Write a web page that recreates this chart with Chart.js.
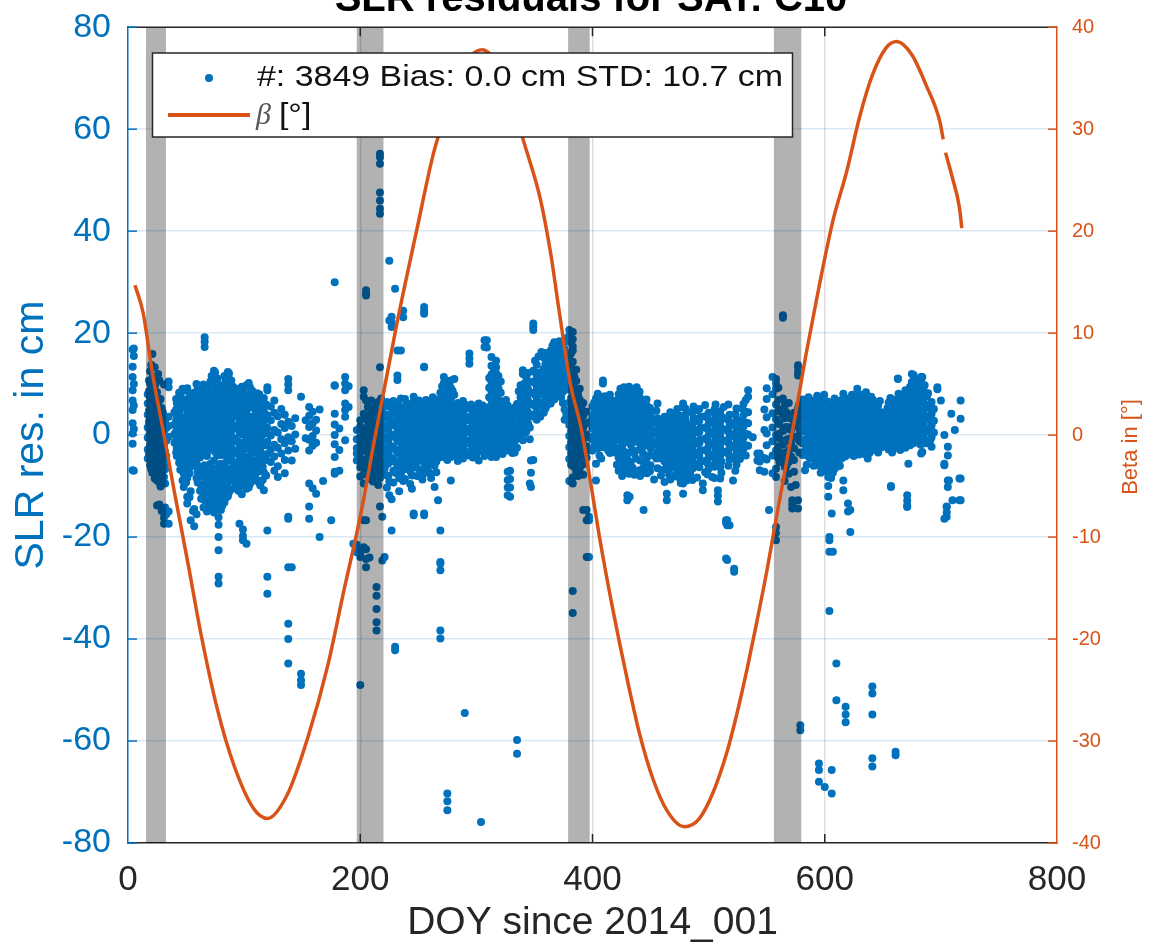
<!DOCTYPE html>
<html>
<head>
<meta charset="utf-8">
<script src="https://cdn.jsdelivr.net/npm/chart.js@4.4.0/dist/chart.umd.min.js"></script>
<style>
  html, body { margin: 0; padding: 0; background: #fff; }
  #wrap { width: 1149px; height: 943px; }
</style>
</head>
<body>
<div id="wrap"><canvas id="myChart"></canvas></div>
<script>
// SLR residuals per pass: one day, several normal points
var slrDays = [4, 5, 17, 19, 21, 23, 25, 27, 29, 31, 33, 35,
  40, 42, 45, 48, 51, 54, 57, 60, 63, 66, 69, 72, 75, 78, 81, 84, 87, 90, 93, 96, 99, 102, 105, 108, 111, 114, 117,
  120, 123, 126, 129, 132, 135, 138, 141, 144, 149, 153, 156, 159, 162, 165, 168, 175, 178, 182,
  187, 190, 194, 197, 200, 203, 205, 208, 211, 214, 217, 219, 221,
  223, 225, 227, 230, 232, 235, 237, 240, 243, 246, 249, 252, 255, 258, 261, 264, 267, 269, 272, 275, 278, 281, 284, 287, 290,
  294, 297, 300, 304, 307, 309, 313, 317, 321, 324, 327, 329, 331, 335, 338, 340, 343, 346, 347, 349, 352, 355, 356, 358, 361, 364, 367, 370, 373, 376,
  380, 383, 386, 389, 392, 395, 397,
  400, 403, 406, 409, 412, 415, 418, 421, 424, 427, 430, 432, 433, 436, 438, 441, 444, 447, 450, 453, 456, 459, 462, 464, 467, 470, 473, 476, 478,
  481, 484, 487, 490, 493, 495, 497, 500, 503, 506, 508, 510, 513, 515, 516, 518, 521, 522, 524, 527, 530, 534, 538, 542, 544, 548, 550, 552, 555, 558,
  561, 564, 567, 571, 572, 575, 577, 579, 583,
  586, 589, 592, 595, 598, 600, 601, 603, 604, 606, 607, 610, 613, 616, 618, 619, 620, 622, 625, 628, 631, 634, 637, 640, 641, 643, 646, 649,
  655, 657, 658, 661, 662, 663, 665, 668, 671, 672, 675, 678, 681, 683, 684, 686, 689, 692, 697, 700, 703, 705, 706, 707, 709, 710, 712, 716, 717,
  // in-between passes of the dense stretches
  18, 20, 22, 24, 26, 28, 30, 32,
  41.5, 44, 47, 50, 53, 56, 59, 62, 65, 68, 71, 74, 77, 80, 83, 86, 89, 92, 95, 98, 101, 104, 107, 110, 113, 116, 119,
  206.5, 209.5, 212.5, 215.5, 218, 220.5,
  224, 228.5, 233.5, 238.5, 241.5, 244.5, 247.5, 250.5, 253.5, 256.5, 259.5, 262.5, 265.5, 270.5, 273.5, 276.5, 279.5, 282.5, 285.5, 288.5,
  291.5, 295.5, 298.5, 302, 305.5, 308, 311, 315, 319, 322.5, 325.5, 329.5, 333, 336.5, 341.5, 344.5, 350.5, 353.5, 359.5, 362.5, 365.5,
  368.5, 371.5, 374.5, 377.5,
  381.5, 384.5, 387.5, 390.5,
  401.5, 404.5, 407.5, 410.5, 413.5, 416.5, 419.5, 422.5, 425.5, 428.5, 431.5, 434.5, 437.5, 440.5, 443.5, 446.5, 449.5, 455, 461, 466,
  472, 475, 480, 486, 492, 499, 505, 511, 517, 523, 529, 532,
  560, 565.5, 569, 573.5, 578,
  581, 584.5, 587.5, 590.5, 593.5, 596.5, 599.5, 602.5, 605.5, 608.5, 611.5, 614.5, 617.5, 620.5, 623.5, 626.5, 629.5, 632.5, 635.5,
  638.5, 641.5, 644.5, 647.5, 650, 654, 656.5, 659.5, 663.5, 666.5, 669.5, 673.5, 676.5, 679.5, 682.5, 685, 688, 691, 694];

var slrRes = [
  [16.8, 13.4, 11.4, 8.8, 6.8, 4.9, 2.3, 0.3, -1.7, -6.9],
  [17, 15.5, 10, 5.8, 1.2, -7],
  [8, 6.2, 4, 1.5, -0.5, -2.8, -4.6],
  [12.5, 10.1, 7.3, 3.1, 0.8, -1.9, -3.7, -5.9],
  [15.9, 11.2, 6.4, 2.4, -0.2, -3.1, -5.1, -7.4],
  [13.3, 9.6, 5.2, 1.7, -1.2, -4.4, -6.3, -8.5],
  [8.4, 4.1, 2.9, 0.4, -2.4, -5.6, -8.9, -13.8],
  [10.7, 6.8, 1.1, -1.6, -3.9, -6.8, -9.3, -13.6],
  [5.3, 2.2, -0.8, -3.3, -7.5, -14.9],
  [9.9, 3.6, 0.2, -2.2, -4.8, -8.2, -16.2, -17.4],
  [1.4, -1.1, -4.1, -5.9, -15.5],
  [10.5, 9.4, 3.6, 1.8, -0.3, -15, -17.4],
  [4.5, 2.1, 0.2, -1.5],
  [6.3, 3.8, 1.6, -0.4, -2.6, -4.1],
  [7.6, 5.2, 2.9, 1.1, -0.9, -3.2, -6.8],
  [8.7, 6.1, 3.4, 0.6, -1.8, -4.5, -7.6, -10.2],
  [9.2, 7.0, 4.4, 2.2, -0.3, -2.7, -5.3, -8.4, -12.1, -13.4],
  [5.8, 3.1, 1.3, -1.1, -3.5, -6.1, -11.0, -16.7],
  [8.3, 6.5, 4.0, 2.6, 0.1, -2.1, -4.7, -17.9, -14.5],
  [9.0, 7.2, 4.8, 2.0, -0.6, -2.9, -7.2, -9.3],
  [8.8, 6.0, 3.3, 1.4, -1.3, -3.6, -6.2, -9.8, -12.5],
  [19.2, 18.3, 17.3, 7.8, 5.4, 2.7, 0.3, -2.0, -5.9, -8.1, -10.6, -12.8],
  [9.4, 6.6, 4.1, 1.7, -0.8, -3.0, -7.0, -9.2, -11.5, -13.6],
  [11.6, 10.2, 8.0, 5.5, 3.0, 0.9, -1.4, -6.5, -8.6, -10.9, -12.2, -14.0],
  [12.3, 10.8, 8.5, 6.2, 3.8, 1.2, -1.0, -3.3, -7.4, -9.9, -11.3, -13.1],
  [9.1, 6.9, 4.5, 2.3, -0.1, -2.5, -6.0, -8.8, -10.4, -12.6, -16.1, -17.6, -20.0, -22.6, -27.8, -29.1],
  [8.1, 5.8, 3.2, 1.0, -1.6, -3.9, -7.1, -9.5, -11.8, -13.9],
  [10.6, 7.3, 5.0, 2.5, 0.4, -2.2, -5.4, -8.0, -10.0, -12.4],
  [12.1, 11.0, 8.8, 6.4, 3.5, 1.3, -0.7, -3.1, -6.8, -9.0, -11.2],
  [9.6, 7.1, 4.6, 2.0, -0.5, -2.8, -5.2, -8.3],
  [8.4, 5.7, 3.9, 1.6, -1.1, -3.4, -6.4, -9.7],
  [7.5, 5.1, 2.8, 0.6, -1.9, -4.3, -7.8, -10.1, -17.4],
  [8.9, 6.3, 3.7, 1.1, -1.5, -3.8, -6.0, -9.2, -18.5, -19.8, -20.6],
  [9.8, 7.0, 4.3, 2.1, -0.4, -2.6, -5.5, -8.1, -10.5, -21.3],
  [9.4, 6.6, 3.1, 0.8, -1.7, -4.0, -6.9, -9.6],
  [7.8, 5.4, 2.4, 0.0, -2.3, -5.0, -7.7],
  [8.2, 5.9, 3.5, 1.2, -1.0, -3.5, -6.3, -8.9],
  [6.9, 4.2, 1.9, -0.6, -3.1, -5.8, -9.9],
  [7.3, 4.8, 2.7, 0.2, -2.0, -4.6, -7.3, -10.8],
  [9.4, 8.8, 3.9, 1.5, -1.3, -3.7, -18.7, -27.8, -31.1],
  [5.6, 2.9, -0.1, -2.8, -5.3],
  [6.8, 4.4, 1.0, -1.9, -4.2, -7.0],
  [3.7, 0.5, -2.5, -6.1, -8.2],
  [5.1, 2.2, -0.8, -3.6],
  [4.0, 1.4, -1.6, -4.9, -7.5],
  [11.0, 9.9, 8.8, 2.6, -0.4, -3.0, -16.0, -16.4, -25.9, -37.0, -40.0, -44.8],
  [1.8, -1.2, -5.0, -25.9],
  [3.3, 0.1, -2.7],
  [7.5, -46.8, -48.1, -49.0],
  [2.9, -0.6],
  [5.5, 3.8, 1.6, -0.9, -3.0, -9.5, -14.0, -16.4],
  [4.6, 2.3, -0.2, -2.1, -10.4],
  [3.0, 0.9, -1.5, -11.5],
  [5.0, -20.0],
  [-9.0],
  [-16.7],
  [30.0, 9.7, 9.8, 4.2, 2.1, 0.0, -1.8, -4.3, -7.2, -7.6],
  [1.3, -2.9, -7.0],
  [11.4, 10.1, 8.8, 6.2, 4.9, 3.6, -1.0],
  [9.6, 5.5],
  [-21.3],
  [1.0, -0.8, -2.6, -3.6, -5.0, -21.5, -23.0],
  [2.9, 1.7, -0.4, -1.9, -4.4, -6.3, -8.1, -22.3, -23.2, -23.9, -49.0],
  [8.8, 7.5, 4.2, 0.5, -1.2, -3.0, -5.6, -7.7, -9.5, -16.7, -22.0],
  [28.4, 27.7, 27.4, 6.8, 3.3, 1.4, -0.6, -2.4, -4.8, -6.9, -16.7, -22.4, -24.3, -25.9],
  [3.9, 2.2, 0.3, -1.7, -3.9, -6.0, -8.6, -24.0],
  [4.2, 1.0, -0.9, -3.3, -5.4, -7.3, -9.1],
  [2.6, 0.7, -1.4, -3.8, -6.8, -29.8, -31.5, -34.1, -36.7, -38.3],
  [55.2, 54.5, 53.2, 47.6, 46.0, 44.4, 43.4, 13.3, 3.5, 1.2, -0.5, -2.3, -5.7, -8.4, -14.0],
  [4.8, 2.0, -0.2, -4.3, -16.0, -24.6],
  [5.9, 3.4, 1.5, -0.9, -3.5, -6.5, -23.9],
  [6.5, 4.0, 1.8, -0.7, -2.8, -5.0, -7.9, -10.3],
  [22.5, 34.2, 3.1, 0.4, -1.9, -4.1, -9.1, -11.8],
  [23.2, 22.2, 21.2, 5.3, 2.5, -0.2, -2.3, -4.6, -12.6, -18.7],
  [28.7, 4.7, 2.0, 0.0, -2.8, -5.3, -7.4, -42.2, -41.5],
  [16.6, 11.7, 10.8, 5.9, 3.3, 1.1, -1.2, -3.5, -6.1],
  [16.6, 7.2, 4.4, 2.4, -0.3, -2.6, -4.8, -7.6],
  [24.4, 23.1, 5.1, 2.9, 0.6, -1.7, -3.9, -6.8, -9.0],
  [6.0, 3.6, 1.4, -0.9, -3.2, -5.6],
  [4.5, 2.3, 0.1, -2.1, -4.4, -7.1, -9.6],
  [7.5, 5.2, 2.8, 0.5, -1.8, -4.0, -6.3, -15.4, -15.7],
  [6.1, 3.9, 1.7, -0.6, -2.9, -5.2, -8.0],
  [5.6, 3.2, 1.0, -1.3, -3.6, -6.9],
  [25.1, 24.4, 23.8, 13.4, 13.3, 6.4, 4.1, 1.9, -0.4, -2.7, -5.4, -7.5, -15.4, -15.7],
  [5.0, 2.7, 0.4, -1.9, -4.2, -6.4],
  [6.5, 4.4, 2.2, -0.1, -2.4, -4.6, -8.4],
  [5.3, 3.0, 0.8, -1.5, -3.8, -6.0, -10.2],
  [6.9, 4.6, 2.4, 0.1, -2.2, -4.5, -12.8],
  [8.3, 5.8, 3.5, 1.2, -1.1, -3.4, -18.7, -25.2, -26.5, -38.3, -39.9, -24.9],
  [11.4, 10.2, 9.0, 7.6, 5.1, 2.8, 0.5, -1.8, -4.1],
  [10.6, 8.8, 6.7, 4.3, 2.0, -0.3, -2.6, -4.9, -70.3, -71.8, -73.6],
  [10.7, 9.3, 7.2, 4.9, 2.6, 0.3, -2.0, -4.3, -8.9],
  [11.0, 7.9, 5.5, 3.2, 0.9, -1.4, -3.7],
  [6.3, 4.0, 1.7, -0.6, -2.9, -5.1],
  [5.7, 3.4, 1.1, -1.2, -3.5],
  [6.0, 3.7, 1.4, -0.9, -3.2, -54.5],
  [16.0, 15.0, 14.0, 5.2, 2.9, 0.6, -1.7, -4.0],
  [4.8, 2.5, 0.2, -2.1, -4.4],
  [5.4, 3.1, 0.8, -1.5, -3.8],
  [4.6, 2.3, 0.0, -2.3, -75.9],
  [18.6, 17.3, 5.1, 2.8, 0.5, -1.8, -4.1],
  [18.6, 17.2, 4.4, 1.9, -0.4, -2.7],
  [15.3, 13.6, 11.9, 10.4, 8.7, 6.9, 4.5, 2.2, -0.1, -2.4, -4.3],
  [14.6, 13.3, 12.1, 9.8, 7.5, 5.5, 3.3, 1.0, -1.3, -4.3],
  [10.5, 8.3, 6.0, 3.8, 1.5, -0.8, -3.1],
  [6.6, 4.3, 2.0, -0.3, -2.6],
  [5.8, 3.5, 1.2, -1.1, -3.0, -7.2, -8.8, -10.3, -11.8],
  [-7.0, -8.6, -10.3, -12.1],
  [4.9, 2.6, 0.3, -2.0, -3.5],
  [6.1, 3.9, 1.6, -0.7, -2.5, -59.8, -62.5],
  [9.8, 7.4, 5.1, 2.8, 0.5],
  [12.7, 12.0, 8.3, 6.1, 3.8, 1.4, -1.0],
  [11.3, 9.6, 7.4, 5.2, 2.9, 0.7],
  [10.4, 8.2, 6.0, 3.7, 1.5, -0.8, -9.5],
  [-5.0, -7.4, -10.2],
  [21.9, 21.2, 20.6, 12.6, 10.5, 8.3, 6.1, 4.0, -4.9],
  [13.8, 11.7, 9.5, 7.3, 5.2, 3.0],
  [12.3, 10.1, 8.0, 5.8, 3.6],
  [16.3],
  [15.2, 13.0, 10.9, 8.7, 6.5, 4.4],
  [14.5, 12.4, 10.2, 8.1, 5.9],
  [16.6, 14.8, 12.7, 10.5, 8.4, 6.2],
  [18.2, 16.8, 15.3, 13.1, 10.9, 8.8, 7.0],
  [17.2, 15.1, 12.9, 10.8, 8.6],
  [15.9, 13.8, 11.6, 9.5, 7.4],
  [16.9, 14.7, 12.5, 10.4, 5.0, 3.0],
  [20.6, 19.5, 18.3, 15.0, 13.1, 11.0, 8.9, 6.4, 4.2, 2.0, -0.2, -2.4, -4.7, -9.0],
  [20.2, 18.8, 17.4, 16.6, 14.4, 12.3, 9.7, 7.6, 5.3, 3.1, 0.9, -1.4, -3.6, -6.0, -8.3, -9.5, -30.6, -34.9],
  [12.8, 10.6, 8.4, 6.3, 4.1, 1.8, -0.5, -2.8, -5.1, -7.4],
  [9.1, 7.0, 4.8, 2.6, 0.4, -1.9, -4.3, -6.5],
  [6.3, 3.8, 1.5, -0.8, -3.2, -5.7, -7.8, -14.7],
  [4.6, 2.3, 0.1, -2.2, -4.5, -14.7, -16.7, -23.9],
  [2.5, -0.4, -3.0, -16.7, -23.9, -16.0],
  [5.6, 3.5, 1.3, -0.9, -3.0],
  [7.2, 5.0, 2.8, 0.6, -1.6, -5.6, -8.9],
  [7.6, 5.5, 3.3, 1.1, -1.1, -4.0],
  [10.1, 10.7, 6.4, 4.2, 2.0, -0.2, -2.4],
  [6.9, 4.7, 2.5, 0.3, -1.9],
  [7.9, 5.8, 3.6, 1.4, -0.8, -3.5],
  [5.1, 2.9, 0.7, -1.5],
  [6.8, 4.6, 2.4, 0.2, -2.6, -5.8],
  [9.1, 7.8, 5.6, 3.4, 1.2, -1.0, -3.9, -6.1],
  [9.4, 8.3, 6.1, 3.9, 1.7, -0.5, -3.2, -7.1],
  [8.6, 6.4, 4.2, 2.0, -0.2, -4.7, -6.9, -11.8, -12.8],
  [-12.1],
  [9.0, 7.0, 4.8, 2.6, 0.4, -1.9, -5.3],
  [8.1, 5.9, 3.7, 1.5, -0.7, -3.6, -7.8],
  [9.1, 9.4, 6.5, 4.3, 2.1, -0.1],
  [7.3, 5.1, 2.9, 0.7, -1.5, -5.0, -8.0],
  [6.6, 4.4, 2.2, 0.0, -2.2, -6.3, -14.7],
  [5.7, 3.5, 1.3, -0.9, -4.4, -7.5],
  [4.0, 1.8, -0.4, -2.6, -5.9],
  [2.6, 0.4, -1.8, -4.0, -8.7],
  [6.2, 3.3, 1.1, -1.1, -3.3, -6.5],
  [2.0, -0.2, -2.4, -4.6, -7.9],
  [3.6, 1.4, -0.8, -3.0, -5.2, -9.2],
  [0.5, -1.7, -3.9, -6.1, -11.5, -12.8],
  [4.5, 2.3, 0.1, -2.1, -4.3, -6.5, -8.7],
  [2.9, 0.7, -1.5, -3.7, -5.9, -8.1],
  [5.1, 1.9, -0.3, -2.5, -4.7, -6.9],
  [3.8, 1.6, -0.6, -2.8, -5.0, -7.2, -9.4],
  [6.2, 5.5, -3.7, -9.5, -11.5],
  [4.3, 2.1, -0.1, -2.3, -4.5, -6.7, -8.9],
  [1.2, -1.0, -3.2, -5.4, -7.6],
  [5.6, 3.4, 1.2, -1.0, -3.2, -5.4],
  [4.9, 2.7, 0.5, -1.7, -3.9, -6.1, -8.3],
  [3.6, 1.4, -0.8, -3.0, -5.2],
  [-9.5, -10.8],
  [5.9, 3.7, 1.5, -0.7, -2.9, -5.1, -7.3],
  [4.4, 2.2, 0.0, -2.2, -4.4, -6.6],
  [2.8, 0.6, -1.6, -3.8, -6.0, -8.2],
  [6.0, 3.8, 1.6, -0.6, -2.8, -5.0],
  [-10.8, -11.9, -13.0],
  [4.7, 2.5, 0.3, -1.9, -4.1, -6.3, -8.5],
  [5.5, 3.3, 1.1, -1.1, -3.3],
  [-16.7, -17.2, -24.2],
  [-16.7, -17.7, -24.5],
  [4.0, 1.8, -0.4, -2.6, -4.8, -17.7],
  [2.3, 0.1, -2.1, -4.3, -8.9],
  [-26.2, -26.8],
  [5.2, 3.0, 0.8, -1.4, -3.6, -5.8],
  [1.9, -0.3, -2.5, -4.7],
  [6.1, 3.9, 1.7, -0.5, -2.7],
  [8.8, 7.5, 4.5, 2.3, 0.1, -2.1],
  [-0.4],
  [-3.6, -5.0],
  [-3.6, -5.2, -6.9],
  [5.0, 1.0, -4.5, -7.2],
  [9.2, 7.1, 3.5, 0.3, -2.0, -4.8],
  [-14.7],
  [11.4, 8.0, 4.3, 1.5, -1.2, -4.0, -7.5],
  [11.0, 10.1, 9.1, 6.0, 3.1, 0.0, -3.0, -6.6, -8.2, -18.0, -19.2, -20.6],
  [5.0, 2.2, -0.6, -3.4, -5.3],
  [23.5, 23.0, 7.2, 3.9, 0.8, -1.9, -4.8],
  [4.5, 1.6, -0.9, -3.6, -6.1],
  [3.2, 1.0, -1.7, -4.2, -10.2],
  [-12.8, -13.6, -14.4],
  [2.1, -0.5, -9.8],
  [13.7, 13.3, 12.4, 11.7, 5.3, 2.4, -0.2, -12.8, -14.4],
  [4.8, 1.6, -1.3, -56.9, -57.9],
  [6.3, 3.9, 1.6, -0.8, -3.0, -6.9],
  [7.4, 5.0, 2.7, 0.4, -1.9, -4.2],
  [6.2, 3.9, 1.6, -0.7, -3.0],
  [6.8, 4.5, 2.2, -0.1, -2.4, -4.7],
  [5.9, 3.6, 1.3, -1.0, -3.3, -5.6, -64.4, -65.7, -68.0],
  [7.1, 4.8, 2.5, 0.2, -2.1, -4.4, -6.7],
  [-69.0],
  [6.0, 3.7, 1.4, -0.9, -3.2, -5.5],
  [-8.2, -10.0, -12.1],
  [5.2, 2.9, 0.6, -1.7, -4.0, -6.3, -20.0, -20.6, -22.9, -34.5],
  [-15.4, -65.7, -70.3],
  [4.3, 2.0, -0.3, -2.6, -4.9, -7.4, -22.9],
  [6.6, 4.3, 2.0, -0.3, -2.6, -4.9, -44.8, -52.0],
  [5.5, 3.2, 0.9, -1.4, -3.7, -6.0],
  [8.1, 6.4, 4.1, 1.8, -0.5, -2.8, -8.9, -10.8],
  [-53.3, -54.8, -56.3],
  [5.3, 3.0, 0.7, -1.6, -3.9],
  [-13.4, -15.0],
  [6.8, 4.5, 2.2, -0.1, -2.4, -14.7, -19.0],
  [7.4, 5.1, 2.8, 0.5, -1.8, -4.1],
  [9.1, 6.2, 3.9, 1.6, -0.7, -3.0],
  [7.0, 4.7, 2.4, 0.1, -2.2],
  [7.8, 5.5, 3.2, 0.9, -1.4, -3.7],
  [6.7, 4.4, 2.1, -0.2, -2.5, -4.6],
  [7.5, 5.2, 2.9, 0.6, -1.7],
  [-49.3, -50.7, -54.8, -63.4, -65.0],
  [6.3, 4.0, 1.7, -0.6, -2.9],
  [5.8, 3.5, 1.2, -1.1, -3.4],
  [4.5, 2.2, -0.1, -2.4],
  [6.4, 4.1, 1.8, -0.5, -2.8],
  [-10.0, -10.2],
  [5.6, 3.3, 1.0, -1.3, -3.4],
  [-62.1, -62.8],
  [7.0, 4.7, 2.4, 0.1, -2.2],
  [11.1, 11.0],
  [6.1, 3.8, 1.5, -0.8, -2.9],
  [7.9, 5.6, 3.3, 1.0, -1.3],
  [-11.8, -12.9, -14.1, -13.8],
  [8.6, 6.3, 4.0, 1.7, -0.6, -5.6],
  [12.0, 10.4, 8.1, 5.8, 3.5, 1.2, -1.1],
  [11.0, 9.3, 7.0, 4.7, 2.4, 0.1],
  [10.6, 8.7, 6.4, 4.1, 1.8, -0.5],
  [11.4, 10.8, -3.6],
  [11.4, -3.3],
  [9.8, 7.6, 5.3, 3.0, 0.7, -1.6],
  [8.2, 5.9, 3.6, 1.3, -1.0],
  [6.5, 4.2, 1.9, -0.4, -2.3],
  [9.4, 9.0],
  [6.8],
  [0.0, -5.6, -5.9, -16.4],
  [-14.0, -14.1, -15.2, -16.0],
  [-2.3, -4.0, -8.9, -10.2],
  [-8.9],
  [4.2],
  [-12.8],
  [1.0],
  [-8.5, -12.8],
  [6.8, 3.2, -12.8, -8.5],
  // in-between passes
  [10.7, 8.6, 4.8, 2.6, -0.2, -3.6],
  [13.8, 9.0, 5.1, 1.1, -2.4, -4.8, -6.7],
  [11.4, 7.8, 4.0, 0.8, -1.0, -3.4, -5.6],
  [10.2, 6.3, 3.3, -0.1, -3.0, -6.0, -7.7],
  [12.0, 5.6, 2.1, -0.9, -4.4, -7.2],
  [7.1, 3.6, 0.8, -2.8, -5.2, -7.9, -10.1],
  [4.5, 1.4, -1.6, -4.1, -6.0, -9.2],
  [2.5, -0.3, -3.3, -6.7, -9.5, -14.2],
  [7.1, 5.0, 2.9, 0.8, -1.0, -3.4],
  [8.3, 6.6, 4.4, 2.0, -0.2, -2.0, -5.4],
  [9.1, 7.1, 5.4, 1.9, -0.1, -3.0, -5.9, -8.9],
  [5.6, 3.0, 1.1, -1.2, -3.6, -6.6, -9.3],
  [8.2, 6.8, 4.7, 2.3, -0.2, -2.4, -4.8, -7.5, -12.2],
  [7.2, 5.1, 2.9, 0.9, -1.4, -3.9, -6.0, -14.9],
  [10.0, 6.1, 3.7, 1.3, -1.0, -3.3, -5.6, -8.4, -15.5],
  [7.6, 5.3, 2.6, 0.4, -2.1, -4.4, -8.1, -10.9],
  [9.9, 6.9, 4.0, 1.6, -0.7, -3.2, -7.1, -9.6, -11.9, -14.2],
  [8.4, 5.8, 3.5, 1.0, -1.6, -4.1, -6.2, -8.5, -10.2, -12.5, -15.0],
  [10.5, 7.9, 5.2, 2.6, 0.2, -2.3, -5.6, -7.9, -10.0, -11.8, -13.7],
  [12.6, 9.6, 7.0, 4.6, 2.1, -0.4, -2.7, -5.0, -8.3, -10.6, -12.9, -15.2],
  [11.1, 8.0, 5.6, 3.3, 0.8, -1.6, -4.0, -7.3, -9.6, -11.7, -13.9],
  [9.8, 7.4, 4.3, 2.0, -0.4, -2.9, -5.6, -8.3, -10.9, -12.8, -14.7],
  [11.6, 8.8, 6.2, 3.8, 1.4, -1.1, -3.4, -6.2, -9.1, -11.2, -13.2],
  [12.4, 9.5, 7.4, 4.9, 2.6, 0.1, -2.1, -4.5, -7.6, -10.3, -12.0],
  [10.7, 8.3, 5.7, 3.1, 0.8, -1.6, -4.0, -6.6, -8.9, -10.6],
  [9.2, 6.6, 4.1, 1.8, -0.6, -3.1, -5.5, -7.3],
  [8.6, 6.1, 3.6, 1.2, -1.3, -3.7, -5.8, -8.8, -10.9],
  [9.5, 7.3, 4.9, 2.5, 0.1, -2.4, -4.9, -7.1, -9.9, -11.6],
  [8.0, 5.6, 3.2, 0.6, -1.9, -4.5, -7.0, -9.3],
  [10.2, 7.9, 5.3, 2.7, 0.3, -2.2, -4.7, -8.4, -10.3],
  [8.7, 6.1, 3.6, 1.3, -1.2, -3.5, -6.1, -9.0],
  [7.1, 4.7, 2.0, -0.4, -2.7, -5.4, -7.6],
  [8.0, 5.4, 3.0, 0.6, -1.8, -4.4, -7.1, -9.4],
  [6.2, 3.7, 1.1, -1.4, -3.8, -6.2, -8.8],
  [6.0, 3.2, 0.6, -2.0, -4.9, -7.9],
  [5.5, 2.7, 0.8, -1.3, -3.4, -5.5, -7.7],
  [6.8, 4.6, 1.6, -0.3, -2.6, -4.6, -6.9],
  [5.4, 3.0, 1.9, -0.1, -2.1, -4.7, -8.0],
  [6.5, 4.4, 2.1, -0.7, -2.9, -5.1, -7.6, -9.8],
  [7.2, 4.9, 2.7, 0.5, -1.7, -3.9, -6.9],
  [6.2, 4.0, 1.7, -0.5, -2.7, -5.0, -7.5],
  [5.6, 3.4, 1.2, -1.0, -3.3, -5.6, -8.0],
  [6.7, 4.2, 2.0, -0.3, -2.5, -4.8, -7.0, -9.3],
  [5.8, 3.6, 1.3, -1.0, -3.2, -5.5, -8.4, -11.0],
  [7.1, 4.8, 2.6, 0.3, -1.9, -4.2, -6.1, -8.6],
  [5.2, 3.0, 0.7, -1.6, -3.8, -6.3],
  [6.3, 4.0, 1.8, -0.5, -2.7, -5.0, -7.9, -10.5],
  [5.3, 3.1, 0.8, -1.4, -3.7, -5.9],
  [6.8, 4.6, 2.4, 0.1, -2.1, -4.4, -6.7],
  [4.4, 2.1, -0.1, -2.4, -4.8, -8.7],
  [6.9, 4.8, 2.6, 0.4, -1.8, -4.0, -6.2],
  [5.7, 3.5, 1.3, -0.9, -3.1, -5.3, -7.4],
  [7.4, 4.3, 2.1, -0.2, -2.4, -4.6],
  [6.1, 3.8, 1.6, -0.6, -2.9, -5.2, -7.3],
  [9.6, 7.0, 4.7, 2.4, 0.2, -2.1, -4.3],
  [8.2, 5.9, 3.7, 1.4, -0.8, -3.0],
  [9.8, 7.7, 5.4, 3.1, 0.9, -1.3, -3.6],
  [8.7, 6.0, 3.9, 1.7, -0.6, -2.8],
  [5.1, 2.8, 0.6, -1.7, -3.9],
  [4.6, 2.2, 0.0, -2.2, -4.3],
  [6.7, 4.5, 2.3, 0.0, -2.3, -4.6],
  [5.2, 2.9, 0.6, -1.6, -3.8],
  [6.0, 3.7, 1.5, -0.8, -3.0],
  [3.6, 1.3, -0.9, -3.2],
  [6.2, 4.0, 1.7, -0.6, -2.8, -5.0],
  [5.8, 3.5, 1.2, -1.0, -3.2],
  [3.3, 1.0, -1.3, -3.6],
  [11.2, 9.3, 7.4, 5.5, 3.2, 0.9, -1.3, -3.5],
  [12.8, 10.9, 8.6, 6.4, 4.0, 1.7, -0.6, -2.9],
  [11.6, 9.2, 7.0, 4.7, 2.4, 0.1, -2.2],
  [5.4, 3.1, 0.9, -1.4, -3.7],
  [6.9, 4.7, 2.5, 0.2, -2.0],
  [4.0, 1.8, -0.5, -2.7],
  [5.4, 3.2, 1.0, -1.2, -3.4],
  [8.6, 6.2, 4.0, 1.8, -0.4],
  [10.1, 7.3, 5.0, 2.7, 0.4],
  [12.2, 9.0, 6.8, 4.5, 2.3],
  [14.6, 12.4, 10.2, 7.9, 5.7, 3.5],
  [15.4, 11.0, 8.6, 6.4, 4.2],
  [16.1, 14.0, 11.8, 9.6, 7.4, 5.2],
  [15.3, 13.3, 11.1, 9.0, 6.8],
  [17.5, 15.6, 13.5, 11.4, 9.2, 7.1],
  [16.4, 14.2, 12.0, 9.8, 7.7],
  [18.4, 16.5, 14.3, 12.1, 10.0],
  [17.8, 15.0, 12.8, 10.7, 8.5, 6.3],
  [19.0, 16.0, 13.6, 11.5, 9.3, 4.0],
  [16.0, 13.7, 11.7, 9.4, 7.3, 5.1, 3.0, 0.8, -1.4, -3.5, -5.8],
  [11.4, 9.2, 7.0, 4.9, 2.7, 0.5, -1.8, -4.0, -6.3],
  [8.0, 5.7, 3.5, 1.2, -1.0, -3.3, -5.6, -8.0],
  [5.6, 3.4, 1.1, -1.1, -3.4, -5.8],
  [6.4, 4.3, 2.1, -0.1, -2.2],
  [8.1, 6.2, 4.0, 1.8, -0.4, -2.6],
  [6.9, 4.8, 2.6, 0.4, -1.8, -4.6],
  [7.6, 5.4, 3.2, 1.0, -1.2],
  [5.8, 3.6, 1.4, -0.8, -3.0],
  [6.8, 4.6, 2.4, 0.2, -2.0],
  [6.1, 3.9, 1.7, -0.5, -3.4],
  [8.0, 5.7, 3.5, 1.3, -0.9, -4.4, -7.0],
  [8.6, 6.9, 4.7, 2.5, 0.3, -2.1, -5.2, -8.0],
  [7.3, 5.2, 3.0, 0.8, -1.4, -3.8, -6.0],
  [9.5, 7.7, 5.5, 3.3, 1.1, -1.1, -3.4, -7.6],
  [8.4, 6.3, 4.1, 1.9, -0.3, -2.9, -6.4],
  [7.7, 5.3, 3.1, 0.9, -1.3, -4.6],
  [8.5, 6.4, 4.2, 2.0, -0.2, -2.8, -6.9],
  [5.6, 3.4, 1.2, -1.0, -3.6, -7.4],
  [7.0, 4.9, 2.7, 0.5, -1.7, -5.6],
  [5.3, 3.0, 0.8, -1.4, -3.9, -7.1],
  [4.8, 2.5, 0.3, -1.9, -4.6],
  [2.4, 0.2, -2.0, -4.2, -6.8],
  [3.4, 1.1, -1.0, -3.3, -5.6, -7.8],
  [4.0, 1.8, -0.4, -2.6, -4.9, -7.8],
  [2.6, 0.5, -1.7, -4.0, -6.2, -8.4],
  [5.2, 3.1, 0.9, -1.3, -3.5, -5.8, -8.0],
  [4.6, 2.3, 0.1, -2.1, -4.3, -6.6, -8.8],
  [5.1, 2.8, 0.6, -1.6, -4.1, -6.3],
  [3.4, 1.2, -1.0, -3.2, -5.5, -7.7],
  [5.0, 2.8, 0.5, -1.7, -3.9, -6.2, -8.4],
  [3.6, 1.4, -0.8, -3.0, -5.2, -7.4],
  [6.0, 2.9, 0.7, -1.5, -3.7, -6.0],
  [4.1, 1.9, -0.3, -2.5, -4.8, -7.0],
  [5.2, 3.0, 0.8, -1.4, -3.6],
  [6.9, 4.6, 2.4, 0.2, -2.0, -4.0],
  [9.3, 6.9, 4.7, 2.4, 0.2, -2.2, -4.5],
  [5.8, 3.3, 1.1, -1.2, -3.5, -6.2, -9.0],
  [6.3, 3.8, 1.5, -0.7, -3.0, -5.3, -7.6],
  [4.4, 2.0, -0.3, -2.6, -4.9, -7.2],
  [6.0, 3.6, 1.2, -1.1, -3.4],
  [7.0, 5.3, 3.0, 0.7, -1.6, -3.9],
  [5.6, 3.4, 1.1, -1.2, -3.5, -5.8],
  [6.9, 4.6, 2.3, 0.0, -2.3, -4.6],
  [5.4, 3.1, 0.9, -1.4, -3.7, -6.0],
  [7.7, 5.6, 3.3, 1.0, -1.3, -3.6, -5.9],
  [6.4, 4.1, 1.8, -0.5, -2.8, -5.1, -7.4],
  [7.9, 5.4, 3.1, 0.8, -1.5, -3.8, -6.2],
  [6.6, 4.3, 2.0, -0.3, -2.6, -4.9, -7.3],
  [5.8, 3.5, 1.2, -1.1, -3.4, -5.7, -8.4],
  [7.2, 4.9, 2.6, 0.3, -2.0, -4.3, -6.6],
  [5.4, 3.1, 0.8, -1.5, -3.8, -6.1],
  [6.9, 4.6, 2.3, 0.0, -2.3, -4.6],
  [7.3, 5.0, 2.7, 0.4, -1.9, -4.2],
  [6.0, 3.7, 1.4, -0.9, -3.2],
  [7.9, 5.7, 3.4, 1.1, -1.2, -3.5],
  [6.5, 4.2, 1.9, -0.4, -2.7],
  [8.0, 5.4, 3.1, 0.8, -1.5, -3.8],
  [6.1, 3.8, 1.5, -0.8, -3.1],
  [8.4, 6.6, 4.3, 2.0, -0.3, -2.6],
  [5.7, 3.4, 1.1, -1.2, -3.5],
  [6.9, 4.6, 2.3, 0.0, -2.3],
  [5.2, 2.9, 0.6, -1.7],
  [6.7, 4.4, 2.1, -0.2, -2.5],
  [3.5, 1.2, -1.1],
  [5.3, 3.0, 0.7, -1.6],
  [7.3, 5.0, 2.7, 0.4, -1.9],
  [6.6, 4.3, 2.0, -0.3, -2.6],
  [8.1, 5.9, 3.6, 1.3, -1.0],
  [6.9, 4.6, 2.3, 0.0, -2.0],
  [8.8, 6.7, 4.4, 2.1, -0.2, -2.5],
  [9.5, 7.2, 4.9, 2.6, 0.3, -2.0],
  [11.8, 9.9, 7.6, 5.3, 3.0, 0.7, -1.6],
  [10.3, 8.1, 5.8, 3.5, 1.2, -1.1],
  [9.5, 7.3, 5.0, 2.7, 0.4, -1.9],
  [8.9, 6.6, 4.3, 2.0, -0.3],
  [7.6, 5.3, 3.0, 0.7, -1.6],
  [6.0, 3.7, 1.4, -0.9],
  [5.1, 2.8, 0.5]
];

// beta angle of the orbit plane (null = data gap)
var betaDays = [6, 13, 21, 31, 40, 52, 63, 77, 91, 108, 120, 137, 155, 172, 186, 200, 213, 232, 249, 263,
  272, 285, 295, 305, 315, 325, 333, 340, 355, 364, 372, 381, 390, 399, 406, 417, 430, 441, 452, 464, 479,
  492, 504, 516, 524, 533, 541, 550, 558, 567, 574, 584, 595, 607, 619, 630, 641, 653, 662, 675, 687, 699, 702,
  703, 704, 710, 716, 718];
var betaVals = [14.7, 12.0, 6.1, 0.0, -5.6, -12.8, -19.6, -26.9, -32.3, -36.6, -37.6, -35.3, -29.6, -22.6, -15.2, -8.0, 0.0, 11.2, 20.3, 27.6,
  31.0, 35.5, 37.2, 37.8, 37.0, 35.0, 32.0, 29.1, 23.2, 17.8, 11.6, 5.0, 0.8, -5.1, -10.0, -16.8, -24.0, -29.5, -33.7, -36.8, -38.4,
  -37.6, -35.0, -31.0, -27.5, -23.0, -18.6, -13.4, -8.3, -2.7, 1.5, 8.0, 14.5, 21.0, 25.9, 31.2, 35.3, 38.0, 38.6, 37.3, 34.4, 30.8, 29.0,
  null, 27.7, 25.2, 22.3, 20.3];

// eclipse seasons (grey bands)
var eclipseStart = [15.5, 197, 379, 556.2];
var eclipseEnd = [32.7, 220, 397.6, 579.8];

var legendLabels = ['#: 3849 Bias: 0.0 cm STD: 10.7 cm', '\u03b2', '[\u00b0]'];

var blue = '#0072BD';
var orange = '#D95319';
var dark = '#262626';
var fontFam = '"Liberation Sans", Arial, sans-serif';

var slrPoints = [];
for (var i = 0; i < slrDays.length; i++) {
  for (var j = 0; j < slrRes[i].length; j++) {
    slrPoints.push({ x: slrDays[i], y: slrRes[i][j] });
  }
}
var betaPoints = betaDays.map(function(d, k) { return { x: d, y: betaVals[k] }; });

var slrExtras = {
  id: 'slrExtras',
  afterDatasetDraw: function(chart, args) {
    if (args.index !== 0) return;
    var ctx = chart.ctx, xs = chart.scales.x, a = chart.chartArea;
    ctx.save();
    ctx.fillStyle = 'rgba(0,0,0,0.3)';
    for (var k = 0; k < eclipseStart.length; k++) {
      var x0 = xs.getPixelForValue(eclipseStart[k]);
      var x1 = xs.getPixelForValue(eclipseEnd[k]);
      ctx.fillRect(x0, a.top, x1 - x0, a.bottom - a.top);
    }
    ctx.restore();
  },
  afterDraw: function(chart) {
    var ctx = chart.ctx, a = chart.chartArea;
    var xs = chart.scales.x, yl = chart.scales.y, yr = chart.scales.y1;
    ctx.save();

    // top box line
    ctx.strokeStyle = dark;
    ctx.lineWidth = 1.5;
    ctx.beginPath();
    ctx.moveTo(a.left, a.top);
    ctx.lineTo(a.right, a.top);
    ctx.stroke();

    // inward ticks
    xs.ticks.forEach(function(t) {
      var px = xs.getPixelForValue(t.value);
      if (px <= a.left + 1 || px >= a.right - 1) return;
      ctx.beginPath();
      ctx.moveTo(px, a.bottom); ctx.lineTo(px, a.bottom - 9);
      ctx.moveTo(px, a.top); ctx.lineTo(px, a.top + 9);
      ctx.stroke();
    });
    ctx.strokeStyle = blue;
    yl.ticks.forEach(function(t) {
      var py = yl.getPixelForValue(t.value);
      ctx.beginPath(); ctx.moveTo(a.left, py); ctx.lineTo(a.left + 9, py); ctx.stroke();
    });
    ctx.strokeStyle = orange;
    yr.ticks.forEach(function(t) {
      var py = yr.getPixelForValue(t.value);
      ctx.beginPath(); ctx.moveTo(a.right, py); ctx.lineTo(a.right - 9, py); ctx.stroke();
    });

    // title, partly above the page edge
    ctx.fillStyle = '#000';
    ctx.font = 'bold 40px ' + fontFam;
    ctx.textAlign = 'center';
    ctx.textBaseline = 'alphabetic';
    ctx.fillText('SLR residuals for SAT: C10', 591, 11);

    // right axis title, reading upwards
    ctx.save();
    ctx.translate(1131, 447);
    ctx.rotate(-Math.PI / 2);
    ctx.fillStyle = orange;
    ctx.font = '22px ' + fontFam;
    ctx.textBaseline = 'middle';
    ctx.fillText('Beta in [\u00b0]', 0, 0);
    ctx.restore();

    // legend box
    ctx.fillStyle = '#fff';
    ctx.fillRect(152, 53, 641, 84);
    ctx.strokeStyle = dark;
    ctx.lineWidth = 1.5;
    ctx.strokeRect(152.5, 53, 640, 84);
    ctx.fillStyle = blue;
    ctx.beginPath(); ctx.arc(209, 78, 4, 0, Math.PI * 2); ctx.fill();
    ctx.fillStyle = '#111';
    ctx.textAlign = 'left';
    ctx.textBaseline = 'middle';
    ctx.font = '29px ' + fontFam;
    var w0 = ctx.measureText(legendLabels[0]).width;
    var sx = 526 / w0;
    ctx.save();
    ctx.translate(257, 78);
    ctx.scale(sx, 1);
    ctx.fillText(legendLabels[0], 0, 0);
    ctx.restore();
    ctx.strokeStyle = orange;
    ctx.lineWidth = 4;
    ctx.beginPath(); ctx.moveTo(168, 115); ctx.lineTo(250, 115); ctx.stroke();
    ctx.fillStyle = '#555';
    ctx.font = 'italic 30px "Liberation Serif", serif';
    ctx.fillText(legendLabels[1], 256, 116);
    var bw = ctx.measureText(legendLabels[1]).width;
    ctx.fillStyle = '#111';
    ctx.font = '29px ' + fontFam;
    ctx.save();
    ctx.translate(256 + bw + 8, 116);
    ctx.scale(sx, 1);
    ctx.fillText(legendLabels[2], 0, 0);
    ctx.restore();
    ctx.restore();
  }
};

var ctx = document.getElementById('myChart');
var myChart = new Chart(ctx, {
  type: 'scatter',
  data: {
    datasets: [
      {
        label: legendLabels[0],
        data: slrPoints,
        yAxisID: 'y',
        backgroundColor: blue,
        borderWidth: 0,
        pointRadius: 4,
        pointHoverRadius: 4,
        order: 2
      },
      {
        type: 'line',
        label: 'beta',
        data: betaPoints,
        yAxisID: 'y1',
        borderColor: orange,
        borderWidth: 3.5,
        pointRadius: 0,
        fill: false,
        spanGaps: false,
        cubicInterpolationMode: 'monotone',
        order: 1
      }
    ]
  },
  options: {
    responsive: true,
    maintainAspectRatio: false,
    animation: false,
    events: [],
    layout: { padding: { top: 27, left: 0, right: 0, bottom: 0 } },
    plugins: {
      legend: { display: false },
      title: { display: false },
      tooltip: { enabled: false }
    },
    scales: {
      x: {
        type: 'linear',
        min: 0,
        max: 800,
        afterFit: function(s) { s.height = 100; },
        ticks: { stepSize: 200, color: dark, padding: 16, font: { size: 35, family: fontFam } },
        grid: {
          drawTicks: false,
          color: function(c) { return (c.tick.value === 0 || c.tick.value === 800) ? 'rgba(0,0,0,0)' : 'rgba(0,0,0,0.13)'; },
          lineWidth: 1.5
        },
        border: { color: dark, width: 1.5 },
        title: { display: true, text: 'DOY since 2014_001', color: dark, font: { size: 39, family: fontFam }, padding: { top: 0, bottom: -4 } }
      },
      y: {
        position: 'left',
        min: -80,
        max: 80,
        afterFit: function(s) { s.width = 128; },
        ticks: { stepSize: 20, color: blue, padding: 17, font: { size: 34, family: fontFam, lineHeight: 0.6 } },
        grid: {
          drawTicks: false,
          color: function(c) { return (c.tick.value === 80 || c.tick.value === -80) ? 'rgba(0,0,0,0)' : 'rgba(0,114,189,0.15)'; },
          lineWidth: 1.5
        },
        border: { color: blue, width: 1.5 },
        title: { display: true, text: 'SLR res. in cm', color: blue, font: { size: 41, family: fontFam }, padding: { top: 7, bottom: 0 } }
      },
      y1: {
        position: 'right',
        min: -40,
        max: 40,
        afterFit: function(s) { s.width = 92; },
        ticks: { stepSize: 10, color: orange, padding: 15, font: { size: 20, family: fontFam, lineHeight: 0.6 } },
        grid: { drawOnChartArea: false, drawTicks: false },
        border: { color: orange, width: 1.5 }
      }
    }
  },
  plugins: [slrExtras]
});
</script>
</body>
</html>
